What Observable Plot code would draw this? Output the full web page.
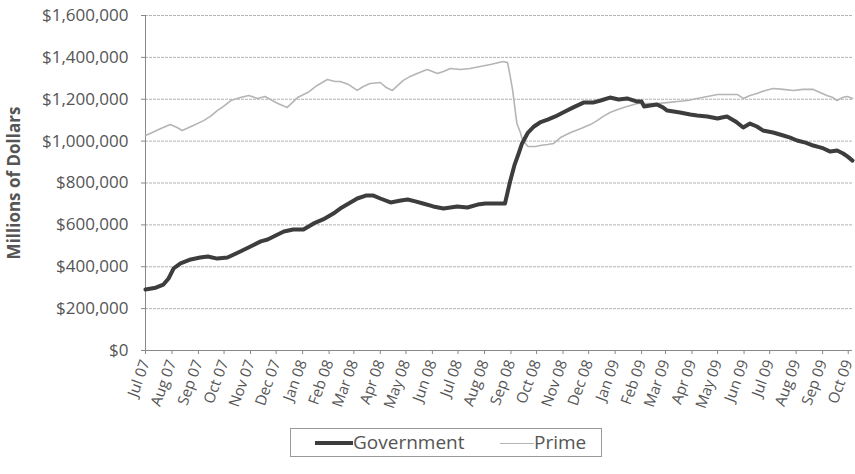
<!DOCTYPE html>
<html>
<head>
<meta charset="utf-8">
<script src="https://cdn.jsdelivr.net/npm/d3@7"></script>
<script src="https://cdn.jsdelivr.net/npm/@observablehq/plot@0.6"></script>
<style>
  html, body { margin: 0; padding: 0; background: #fff; }
  #wrap { position: relative; width: 855px; height: 474px; font-family: "Open Sans", sans-serif; color: #555; }
  #wrap svg [aria-label="y-axis label"] text { font-weight: bold; font-size: 17px; fill: #555; }
  #legend { position: absolute; left: 290px; top: 428px; width: 312px; height: 29px;
    border: 1px solid #999; box-sizing: border-box; font-size: 19px; color: #555; }
  .sw { position: absolute; top: 14px; }
  .lab { position: absolute; top: 0px; line-height: 27px; }
</style>
</head>
<body>
<div id="wrap"></div>
<script>
// Tick labels (months)
const monthLabels = ["Jul 07","Aug 07","Sep 07","Oct 07","Nov 07","Dec 07","Jan 08","Feb 08","Mar 08","Apr 08","May 08","Jun 08","Jul 08","Aug 08","Sep 08","Oct 08","Nov 08","Dec 08","Jan 09","Feb 09","Mar 09","Apr 09","May 09","Jun 09","Jul 09","Aug 09","Sep 09","Oct 09"];
const yTicks = [0, 200000, 400000, 600000, 800000, 1000000, 1200000, 1400000, 1600000];

// Government series
const govDates = ["2007-07-01","2007-07-13","2007-07-22","2007-07-28","2007-08-03","2007-08-11","2007-08-23","2007-09-03","2007-09-12","2007-09-23","2007-10-05","2007-10-20","2007-11-01","2007-11-13","2007-11-21","2007-12-10","2007-12-21","2008-01-02","2008-01-14","2008-01-25","2008-02-06","2008-02-14","2008-02-22","2008-03-05","2008-03-15","2008-03-24","2008-04-01","2008-04-13","2008-04-25","2008-05-03","2008-05-12","2008-05-21","2008-06-02","2008-06-14","2008-06-30","2008-07-12","2008-07-24","2008-08-02","2008-08-11","2008-08-25","2008-08-31","2008-09-05","2008-09-10","2008-09-14","2008-09-21","2008-09-28","2008-10-05","2008-10-14","2008-10-23","2008-11-01","2008-11-13","2008-11-25","2008-12-06","2008-12-15","2008-12-26","2009-01-05","2009-01-15","2009-01-27","2009-02-01","2009-02-04","2009-02-11","2009-02-19","2009-02-26","2009-03-03","2009-03-18","2009-03-30","2009-04-07","2009-04-19","2009-05-01","2009-05-06","2009-05-12","2009-05-22","2009-05-31","2009-06-08","2009-06-16","2009-06-23","2009-07-05","2009-07-17","2009-07-25","2009-08-02","2009-08-12","2009-08-21","2009-08-29","2009-09-02","2009-09-10","2009-09-18","2009-09-25","2009-09-30","2009-10-06"];
const govValues = [291000,300000,315000,344000,392000,416000,435000,444000,449000,439000,444000,473000,497000,521000,530000,568000,578000,578000,607000,626000,654000,678000,697000,726000,740000,740000,726000,707000,716000,721000,712000,702000,688000,678000,688000,683000,697000,702000,702000,702000,807000,884000,941000,989000,1041000,1070000,1089000,1103000,1118000,1137000,1161000,1184000,1184000,1194000,1208000,1199000,1204000,1189000,1189000,1165000,1170000,1175000,1161000,1146000,1137000,1127000,1122000,1118000,1108000,1113000,1118000,1094000,1065000,1084000,1070000,1051000,1041000,1027000,1017000,1003000,993000,979000,970000,965000,950000,955000,941000,927000,907000];

// Prime series
const primeDates = ["2007-07-01","2007-07-09","2007-07-19","2007-07-30","2007-08-07","2007-08-13","2007-08-26","2007-09-07","2007-09-15","2007-09-23","2007-09-30","2007-10-09","2007-10-20","2007-10-30","2007-11-09","2007-11-18","2007-12-03","2007-12-14","2007-12-26","2008-01-07","2008-01-18","2008-01-30","2008-02-08","2008-02-14","2008-02-24","2008-03-05","2008-03-12","2008-03-20","2008-04-01","2008-04-08","2008-04-15","2008-04-28","2008-05-06","2008-05-14","2008-05-26","2008-06-07","2008-06-14","2008-06-22","2008-07-04","2008-07-15","2008-07-27","2008-08-08","2008-08-23","2008-08-28","2008-08-31","2008-09-03","2008-09-06","2008-09-08","2008-09-12","2008-09-14","2008-09-18","2008-09-21","2008-09-30","2008-10-05","2008-10-14","2008-10-21","2008-10-29","2008-11-10","2008-11-22","2008-12-03","2008-12-11","2008-12-18","2008-12-26","2009-01-04","2009-01-11","2009-01-19","2009-01-27","2009-02-08","2009-02-19","2009-03-03","2009-03-15","2009-03-27","2009-04-07","2009-04-19","2009-05-01","2009-05-12","2009-05-24","2009-05-31","2009-06-08","2009-06-16","2009-06-26","2009-07-05","2009-07-17","2009-07-29","2009-08-09","2009-08-21","2009-08-29","2009-09-06","2009-09-13","2009-09-18","2009-09-24","2009-09-30","2009-10-06"];
const primeValues = [1027000,1041000,1060000,1079000,1065000,1051000,1075000,1098000,1118000,1146000,1165000,1194000,1208000,1218000,1204000,1213000,1180000,1161000,1208000,1232000,1266000,1294000,1285000,1285000,1270000,1242000,1261000,1275000,1280000,1256000,1242000,1290000,1309000,1323000,1342000,1323000,1333000,1347000,1342000,1347000,1356000,1366000,1380000,1375000,1313000,1242000,1146000,1084000,1041000,1013000,989000,974000,974000,979000,984000,989000,1017000,1041000,1060000,1079000,1098000,1118000,1137000,1151000,1161000,1170000,1180000,1180000,1180000,1184000,1189000,1194000,1204000,1213000,1223000,1223000,1223000,1204000,1218000,1227000,1242000,1251000,1247000,1242000,1247000,1247000,1232000,1218000,1208000,1194000,1208000,1213000,1204000];

const parseMonth = d3.utcParse("%b %y");
const monthTicks = monthLabels.map(parseMonth);
const gov = govDates.map((d, i) => ({date: new Date(d), value: govValues[i]}));
const prime = primeDates.map((d, i) => ({date: new Date(d), value: primeValues[i]}));
const x0 = new Date("2007-07-01"), x1 = new Date("2009-10-06");

const chart = Plot.plot({
  width: 855,
  height: 420,
  marginLeft: 145,
  marginRight: 3,
  marginTop: 15,
  marginBottom: 70,
  style: {fontFamily: "Open Sans, sans-serif", fontSize: "15px", color: "#555", background: "white"},
  x: {type: "utc", domain: [x0, x1]},
  y: {domain: [0, 1600000]},
  marks: [
    Plot.gridY(yTicks, {stroke: "#888", strokeOpacity: 0.8, strokeWidth: 0.8, strokeDasharray: "3,1"}),
    Plot.ruleY([0], {stroke: "#888", strokeWidth: 1}),
    Plot.ruleX([x0], {stroke: "#888", strokeWidth: 1}),
    Plot.axisY(yTicks, {
      tickFormat: d => "$" + d3.format(",")(d),
      tickSize: 4, tickPadding: 13, stroke: "#888", fontSize: 17,
      label: "Millions of Dollars", labelAnchor: "center", labelArrow: "none", labelOffset: 138
    }),
    Plot.axisX(monthTicks, {
      tickFormat: (d, i) => monthLabels[i],
      tickSize: 4, tickPadding: 6, tickRotate: -70, fontSize: 15, stroke: "#888", label: null
    }),
    Plot.line(prime, {x: "date", y: "value", stroke: "#b5b5b5", strokeWidth: 1.6}),
    Plot.line(gov, {x: "date", y: "value", stroke: "#3d3d3d", strokeWidth: 4})
  ]
});
const wrap = document.getElementById("wrap");
wrap.appendChild(chart);

const legend = document.createElement("div");
legend.id = "legend";
legend.innerHTML =
  '<div class="sw" style="left:24px;width:38px;height:0;border-top:4px solid #3d3d3d;margin-top:-2px"></div>' +
  '<div class="lab" style="left:62px">Government</div>' +
  '<div class="sw" style="left:209px;width:34px;height:0;border-top:1.5px solid #b5b5b5"></div>' +
  '<div class="lab" style="left:243px">Prime</div>';
wrap.appendChild(legend);
</script>
</body>
</html>
